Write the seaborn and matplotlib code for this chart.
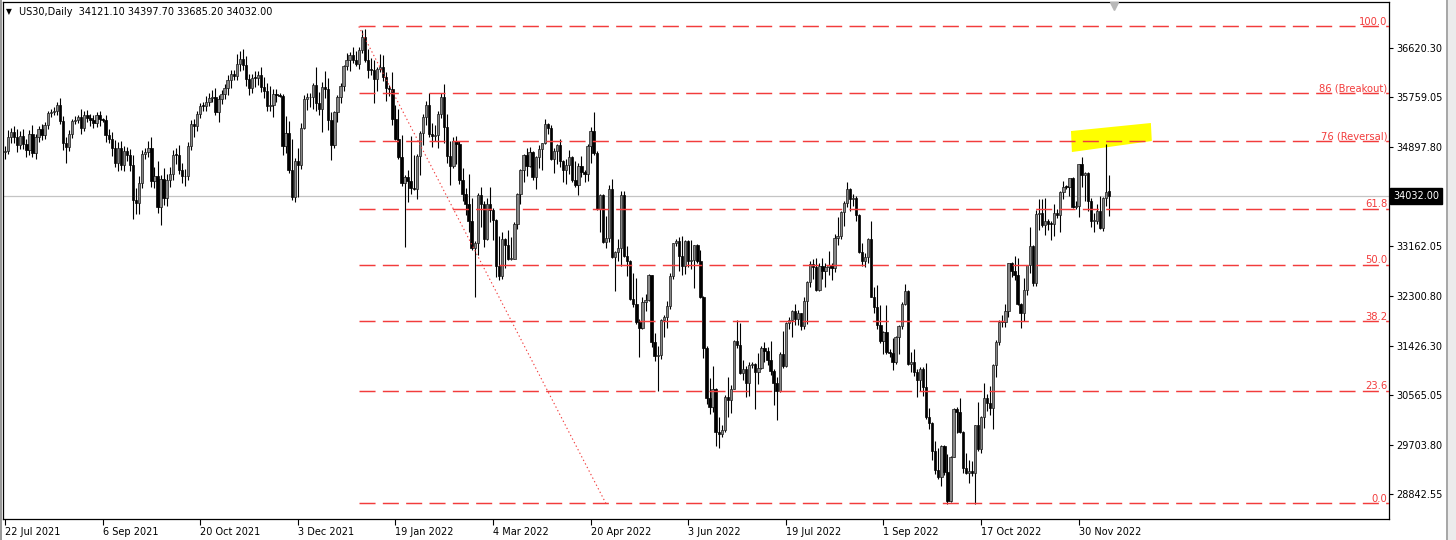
import numpy as np
import pandas as pd
import matplotlib
matplotlib.use("Agg")
import matplotlib.pyplot as plt
import matplotlib.transforms as mtrans
from matplotlib.patches import Polygon, Rectangle
import seaborn as sns

# ---------------- data ----------------
symbol = "US30,Daily"
first_open = 34798
closed_days = ["2021-12-24", "2022-04-15"]

# daily closes, one line per month (Jul 2021 .. Dec 2022)
closes = [
    34823, 35061, 35144, 35058, 34930, 35085, 34935,
    34838, 35117, 34793, 35064, 35209, 35102, 35265, 35485, 35500, 35516, 35626, 35343, 34961, 34894, 35120, 35336, 35367, 35406, 35214, 35456, 35400, 35361,
    35313, 35444, 35369, 35360, 35100, 35031, 34880, 34608, 34870, 34578, 34814, 34751, 34584, 33970, 33919, 34258, 34765, 34798, 34870, 34300, 34390, 33844,
    34326, 34003, 34315, 34417, 34755, 34746, 34496, 34378, 34377, 34912, 35295, 35259, 35458, 35609, 35603, 35677, 35741, 35757, 35491, 35731, 35820,
    35913, 36053, 36158, 36124, 36328, 36432, 36320, 36080, 35921, 36100, 36087, 36142, 35931, 35870, 35602, 35619, 35813, 35804, 35780, 34899, 35135, 34484,
    34022, 34640, 34580, 35227, 35719, 35754, 35754, 35971, 35650, 35544, 35927, 35898, 35365, 34932, 35493, 35753, 35950, 36302, 36398, 36488, 36398, 36338,
    36585, 36800, 36408, 36236, 36231, 36068, 36252, 36290, 36114, 35912, 35900, 35369, 35029, 34715, 34265, 34365, 34298, 34168, 34160, 34725, 35132,
    35405, 35630, 35112, 35089, 35091, 35463, 35768, 35241, 34738, 34566, 34988, 34934, 34312, 34079, 33900, 33597, 33131, 33224, 34059, 33893,
    33294, 33891, 33795, 33615, 32818, 32633, 33286, 33174, 32944, 32945, 33544, 34063, 34481, 34755, 34553, 34808, 34359, 34708, 34862, 34955, 35294, 35229, 34678,
    34818, 34922, 34641, 34497, 34584, 34721, 34309, 34221, 34565, 34451, 34412, 34911, 35161, 34793, 33811, 34049, 33240, 33302, 34160, 32977,
    33061, 33128, 34061, 32998, 32899, 32246, 32161, 31834, 31730, 32197, 32223, 32655, 31490, 31253, 31262, 31880, 31929, 32120, 32637, 33213, 33250, 32990,
    32813, 33248, 32900, 32916, 33180, 32910, 32273, 31393, 30517, 30365, 30669, 29927, 29889, 29950, 30530, 30483, 30677, 31501, 31439, 30947, 31029, 30775,
    31097, 31100, 30968, 31038, 31385, 31339, 31174, 30981, 30773, 30630, 31289, 31073, 31828, 31875, 32037, 31900, 31990, 31762, 32198, 32530, 32845,
    32798, 32397, 32813, 32727, 32803, 32833, 32775, 33310, 33337, 33761, 33913, 34153, 33981, 33999, 33707, 33064, 32910, 32969, 33292, 32283, 32099, 31791, 31510,
    31657, 31318, 31300, 31145, 31581, 31775, 32152, 32381, 31105, 31135, 30962, 30822, 31020, 30706, 30184, 30077, 29590, 29260, 29135, 29684, 29226, 28726,
    29490, 30317, 30274, 29927, 29297, 29203, 29240, 29211, 30039, 29635, 30186, 30524, 30424, 30333, 31083, 31500, 31837, 31839, 32034, 32861, 32733,
    32653, 32148, 32001, 32403, 32827, 33160, 32514, 33716, 33748, 33537, 33593, 33554, 33547, 33746, 33700, 34098, 34195, 34190, 34347, 33849, 33853, 34590,
    34395, 34430, 33947, 33597, 33598, 33781, 33476, 34005, 34108, 34032,
]

# upper shadow length above the body (points)
upper_wicks = [
    90, 120, 80, 110, 150, 90, 120,
    100, 70, 150, 60, 50, 80, 60, 40, 50, 70, 40, 110, 90, 100, 60, 50, 60, 40, 140, 60, 70, 60,
    80, 60, 70, 30, 90, 100, 120, 140, 110, 130, 90, 80, 100, 160, 210, 120, 80, 70, 130, 190, 150, 260,
    80, 190, 100, 120, 80, 120, 180, 120, 130, 60, 70, 80, 60, 50, 70, 110, 90, 120, 160, 60, 70,
    80, 100, 70, 80, 180, 130, 170, 150, 80, 70, 110, 80, 150, 180, 130, 340, 90, 80, 30, 30, 290, 210,
    550, 60, 240, 80, 80, 70, 80, 40, 310, 200, 100, 280, 190, 140, 30, 40, 60, 20, 130, 50, 140, 170,
    50, 130, 150, 190, 200, 180, 40, 220, 210, 80, 60, 300, 260, 530, 390, 40, 130, 780, 580, 40, 30,
    60, 60, 200, 200, 190, 50, 60, 220, 220, 260, 80, 90, 60, 210, 90, 520, 400, 20, 30, 140,
    60, 110, 310, 40, 20, 520, 130, 20, 270, 380, 30, 20, 20, 20, 110, 80, 20, 20, 70, 10, 80, 20, 50,
    50, 20, 100, 20, 100, 120, 20, 340, 40, 170, 30, 30, 70, 330, 30, 20, 20, 380, 70, 170,
    20, 150, 60, 60, 160, 20, 450, 450, 60, 70, 100, 20, 10, 150, 160, 10, 30, 90, 60, 10, 30, 70,
    340, 20, 20, 360, 10, 20, 190, 20, 30, 340, 400, 20, 250, 100, 30, 350, 70, 30, 370, 380, 150, 50,
    40, 50, 20, 260, 30, 100, 70, 340, 40, 100, 20, 400, 10, 60, 20, 120, 60, 10, 80, 30, 50,
    90, 150, 50, 150, 70, 250, 40, 60, 340, 10, 30, 130, 20, 70, 40, 20, 150, 80, 20, 300, 160, 390, 350,
    30, 480, 60, 260, 10, 20, 30, 120, 20, 180, 240, 60, 30, 40, 420, 160, 20, 180, 380, 20, 10, 310,
    20, 20, 50, 240, 20, 260, 200, 170, 10, 400, 20, 250, 60, 300, 20, 20, 30, 130, 120, 10, 20,
    260, 310, 20, 200, 10, 340, 30, 70, 240, 240, 400, 50, 50, 150, 60, 30, 100, 40, 10, 20, 100, 10,
    120, 20, 20, 50, 140, 120, 250, 20, 840, 0,
]

# lower shadow length below the body (points)
lower_wicks = [
    110, 60, 100, 90, 130, 70, 80,
    120, 90, 70, 110, 80, 90, 70, 60, 80, 50, 70, 60, 120, 280, 80, 70, 50, 60, 90, 50, 80, 100,
    90, 70, 110, 30, 120, 80, 150, 60, 140, 90, 110, 100, 120, 330, 190, 190, 80, 90, 90, 110, 120, 110,
    310, 120, 140, 130, 110, 150, 70, 110, 170, 60, 80, 190, 90, 70, 80, 90, 80, 60, 40, 160, 100,
    90, 120, 140, 70, 60, 110, 80, 120, 120, 90, 150, 110, 80, 120, 90, 90, 200, 130, 20, 140, 120, 40,
    60, 90, 570, 80, 20, 190, 160, 210, 140, 100, 400, 160, 180, 270, 60, 170, 100, 90, 70, 180, 40, 40,
    90, 60, 30, 140, 90, 420, 200, 60, 70, 220, 120, 90, 20, 30, 50, 1120, 360, 100, 20, 170, 330,
    200, 130, 40, 200, 90, 220, 70, 280, 130, 330, 50, 340, 60, 130, 200, 180, 30, 860, 220, 400,
    140, 20, 220, 340, 190, 60, 50, 390, 30, 20, 10, 90, 160, 200, 170, 10, 40, 200, 190, 370, 10, 120, 20,
    250, 230, 100, 220, 260, 170, 30, 30, 170, 80, 140, 120, 300, 50, 20, 400, 30, 110, 70, 20,
    600, 150, 320, 30, 250, 20, 60, 30, 500, 20, 160, 20, 90, 100, 620, 60, 310, 200, 50, 50, 40, 260,
    150, 130, 110, 140, 490, 40, 10, 180, 100, 120, 100, 250, 240, 60, 30, 300, 230, 10, 60, 10, 120, 240,
    220, 60, 640, 200, 20, 190, 90, 70, 380, 490, 10, 40, 10, 110, 300, 120, 120, 60, 50, 390, 80,
    200, 20, 10, 140, 280, 140, 200, 60, 120, 50, 250, 70, 200, 120, 100, 20, 100, 120, 100, 10, 100, 80, 30,
    230, 30, 70, 150, 30, 300, 50, 20, 20, 130, 60, 290, 190, 150, 30, 110, 150, 70, 30, 160, 60, 60,
    30, 10, 360, 30, 90, 20, 170, 60, 550, 40, 80, 190, 140, 120, 350, 200, 60, 80, 90, 100, 110,
    80, 10, 270, 140, 90, 130, 40, 50, 280, 50, 180, 110, 270, 200, 50, 300, 120, 30, 160, 30, 40, 180,
    210, 450, 180, 100, 190, 50, 20, 50, 150, 0,
]

# last (current) bar: open, high, low, close
last_bar = [34121.10, 34397.70, 33685.20, 34032.00]

tick_dates = ["2021-07-22", "2021-09-06", "2021-10-20", "2021-12-03", "2022-01-19", "2022-03-04",
              "2022-04-20", "2022-06-03", "2022-07-19", "2022-09-01", "2022-10-17", "2022-11-30"]
price_ticks = [36620.30, 35759.05, 34897.80, 33162.05, 32300.80, 31426.30, 30565.05, 29703.80, 28842.55]

fib_high = 36990
fib_low = 28680
fib_high_date = "2022-01-03"
fib_low_date = "2022-04-27"
fib_levels = [100.0, 86.0, 76.0, 61.8, 50.0, 38.2, 23.6, 0.0]
fib_names = ["100.0", "86 (Breakout)", "76 (Reversal)", "61.8", "50.0", "38.2", "23.6", "0.0"]

# yellow highlight box (bar position, price)
highlight_x = [349.5, 375.7, 376.0, 349.8]
highlight_y = [35168, 35308, 34994, 34802]

# ---------------- build OHLC ----------------
dates = pd.bdate_range("2021-07-22", "2022-12-14").drop(pd.to_datetime(closed_days))
n = len(dates)
assert len(closes) == n and len(upper_wicks) == n and len(lower_wicks) == n, (n, len(closes), len(upper_wicks), len(lower_wicks))

c = np.array(closes, dtype=float)
o = np.concatenate([[first_open], c[:-1]])
h = np.maximum(o, c) + np.array(upper_wicks, dtype=float)
l = np.minimum(o, c) - np.array(lower_wicks, dtype=float)
o[-1], h[-1], l[-1], c[-1] = last_bar
x = np.arange(n)

# ---------------- style / figure ----------------
sns.set_theme(style="white")
plt.rcParams["font.family"] = ["DejaVu Sans"]

W, H = 1456, 540
fig = plt.figure(figsize=(W / 100, H / 100), dpi=100)
fig.patch.set_facecolor("white")
ax_l, ax_r, ax_t, ax_b = 3, 1389, 2, 519
ax = fig.add_axes([ax_l / W, 1 - ax_b / H, (ax_r - ax_l) / W, (ax_b - ax_t) / H])
ax.set_facecolor("white")

px_per_bar = 3.05
x0_px = 5
ax.set_xlim((ax_l - x0_px) / px_per_bar, (ax_r - x0_px) / px_per_bar)
ax.set_ylim(28406.7, 37416.7)

red = "#f23c3c"

# current price line
sns.lineplot(x=[ax.get_xlim()[0], ax.get_xlim()[1]], y=[c[-1], c[-1]], ax=ax,
             color="#c4c4c4", linewidth=0.9, zorder=1)

# yellow highlight
ax.add_patch(Polygon(np.column_stack([highlight_x, highlight_y]), closed=True,
                     facecolor="#ffff00", edgecolor="none", zorder=1.5))

# candles
bull = c >= o
ax.vlines(x, l, h, color="black", linewidth=0.8, zorder=3)
body_bottom = np.minimum(o, c)
body_height = np.maximum(np.abs(c - o), 14)
ax.bar(x[bull], body_height[bull], bottom=body_bottom[bull], width=0.78,
       color="#868686", edgecolor="#1a1a1a", linewidth=0.5, zorder=3.2)
ax.bar(x[~bull], body_height[~bull], bottom=body_bottom[~bull], width=0.78,
       color="black", edgecolor="black", linewidth=0.5, zorder=3.2)

# fibonacci levels
i_hi = dates.get_loc(pd.Timestamp(fib_high_date))
i_lo = dates.get_loc(pd.Timestamp(fib_low_date))
x_start = min(i_hi, i_lo)
x_end = ax.get_xlim()[1]
label_tr = mtrans.offset_copy(mtrans.blended_transform_factory(ax.transAxes, ax.transData),
                              fig=fig, x=-1.5, y=1.5, units="dots")
for lev, name in zip(fib_levels, fib_names):
    p = fib_low + (fib_high - fib_low) * lev / 100.0
    ax.plot([x_start, x_end], [p, p], color=red, linewidth=1.05, dashes=(11, 5),
            zorder=4, solid_capstyle="butt", dash_capstyle="butt")
    ax.text(1.0, p, name, transform=label_tr, ha="right", va="baseline",
            color=red, fontsize=7.2, zorder=5)
ax.plot([i_hi, i_lo], [fib_high, fib_low], color=red, linewidth=0.8, dashes=(1.2, 2.4), zorder=4)

# axes
for s in ax.spines.values():
    s.set_color("black")
    s.set_linewidth(0.9)
    s.set_visible(True)

ax.yaxis.tick_right()
ax.set_yticks(price_ticks)
ax.set_yticklabels([f"{v:.2f}" for v in price_ticks])
ax.tick_params(axis="y", direction="out", length=3, width=0.8, pad=2, labelsize=7,
               colors="black", right=True, left=False)

tick_pos = dates.get_indexer(pd.to_datetime(tick_dates))
tick_lbl = [f"{d.day} {d.strftime('%b %Y')}" for d in pd.to_datetime(tick_dates)]
ax.set_xticks(tick_pos)
ax.set_xticklabels(tick_lbl, ha="left")
ax.tick_params(axis="x", direction="out", length=4, width=0.8, pad=1.5, labelsize=7,
               colors="black", bottom=True)
ax.set_xlabel("")
ax.set_ylabel("")
ax.grid(False)

# current price box on the right scale
box_tr = mtrans.offset_copy(mtrans.blended_transform_factory(ax.transAxes, ax.transData),
                            fig=fig, x=4, y=0, units="dots")
ax.text(1.0, c[-1], f"{c[-1]:.2f}", transform=box_tr, ha="left", va="center",
        color="white", fontsize=7, zorder=6, clip_on=False,
        bbox=dict(boxstyle="square,pad=0.28", facecolor="black", edgecolor="black"))

# chart shift marker
ax.plot([x[-1] + 1.5], [0.993], transform=mtrans.blended_transform_factory(ax.transData, ax.transAxes),
        marker="v", markersize=6, color="#b8b8b8", clip_on=False, zorder=6)

# header
fig.text(6 / W, 1 - 12 / H, "\u25BC", fontsize=5.5, color="black", va="center", ha="left")
fig.text(19 / W, 1 - 12 / H,
         f"{symbol}  " + " ".join(f"{v:.2f}" for v in last_bar),
         fontsize=7, color="black", va="center", ha="left")

# window frame
fig.patches.append(Rectangle((0, 0), 2 / W, 1, transform=fig.transFigure,
                             facecolor="#9a9a9a", edgecolor="none"))
fig.patches.append(Rectangle((1446 / W, 0), 10 / W, 1, transform=fig.transFigure,
                             facecolor="#ececec", edgecolor="none"))
fig.patches.append(Rectangle((1446 / W, 0), 1.5 / W, 1, transform=fig.transFigure,
                             facecolor="#a8a8a8", edgecolor="none"))

fig.savefig("out.png", dpi=100, facecolor="white")
